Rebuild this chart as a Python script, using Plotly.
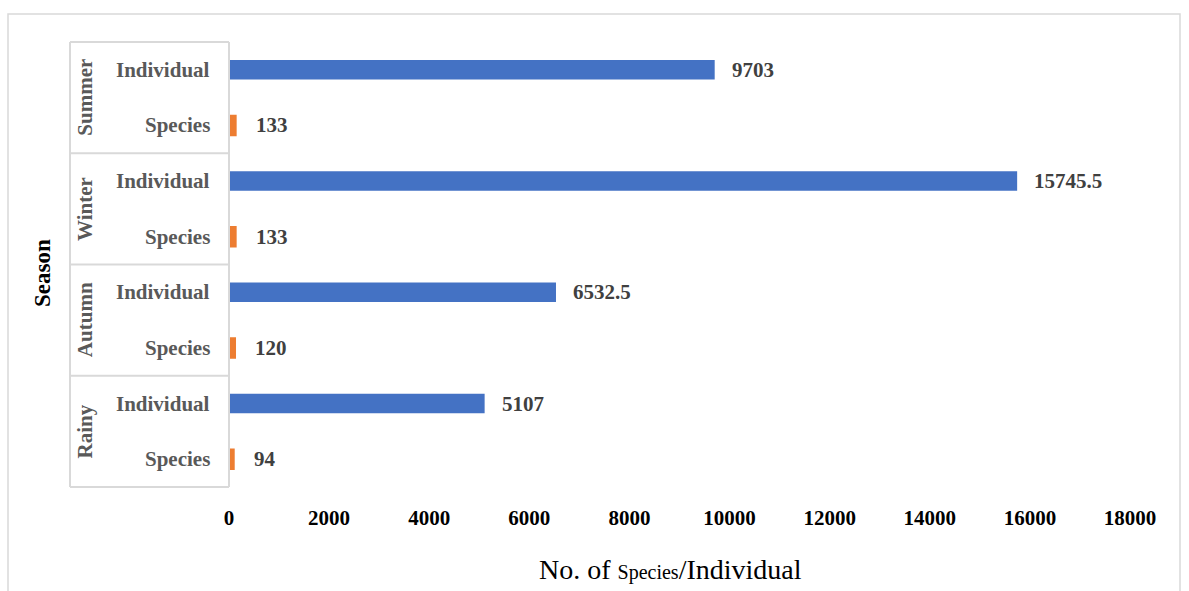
import plotly.graph_objects as go

seasons = ["Summer", "Winter", "Autumn", "Rainy"]
measures = ["Individual", "Species"]
individual = [9703, 15745.5, 6532.5, 5107]
species = [133, 133, 120, 94]
x_ticks = [0, 2000, 4000, 6000, 8000, 10000, 12000, 14000, 16000, 18000]

W, H = 1189, 591
L, R, T, B = 229, 1130, 42, 487  # plot area in px

def px(x):
    return (x - L) / (R - L)

def py(y):
    return (B - y) / (B - T)

cats = [f"{s}|{m}" for s in seasons for m in measures]
ind_cats = [f"{s}|Individual" for s in seasons]
sp_cats = [f"{s}|Species" for s in seasons]

def fmt(v):
    return f"{v:g}"

SERIF = "Liberation Serif, Times New Roman, serif"
FS = 21

fig = go.Figure()
fig.add_trace(go.Bar(
    y=ind_cats, x=individual, orientation="h", width=0.35,
    marker=dict(color="#4472C4", line=dict(width=0)),
    cliponaxis=False, name="Individual",
))
fig.add_trace(go.Bar(
    y=sp_cats, x=species, orientation="h", width=0.35,
    marker=dict(color="#ED7D31", line=dict(color="#ED7D31", width=2)),
    cliponaxis=False, name="Species",
))

annotations = []
# value labels
for ys, vals, shift in ((ind_cats, individual, 15), (sp_cats, species, 18)):
    for yc, v in zip(ys, vals):
        annotations.append(dict(
            x=v, xref="x", y=yc, yref="y", text=fmt(v), showarrow=False,
            xanchor="left", yanchor="middle", xshift=shift,
            font=dict(family=SERIF, size=FS, color="#404040", weight="bold"),
        ))
# inner category labels
for s in seasons:
    for m in measures:
        annotations.append(dict(
            x=px(212), xref="paper", y=f"{s}|{m}", yref="y",
            text=m, showarrow=False, xanchor="right", yanchor="middle",
            font=dict(family=SERIF, size=FS, color="#595959", weight="bold"),
        ))
# season labels (rotated)
n = len(cats)
for i, s in enumerate(seasons):
    ytop = T + (B - T) * (2 * i) / n
    ybot = T + (B - T) * (2 * i + 2) / n
    annotations.append(dict(
        x=px(85), xref="paper", y=py((ytop + ybot) / 2), yref="paper",
        text=s, showarrow=False, textangle=-90, xanchor="center", yanchor="middle",
        font=dict(family=SERIF, size=FS, color="#595959", weight="bold"),
    ))
# axis titles
annotations.append(dict(
    x=px(42), xref="paper", y=py(273), yref="paper",
    text="Season", showarrow=False, textangle=-90, xanchor="center", yanchor="middle",
    font=dict(family=SERIF, size=23, color="#000000", weight="bold"),
))
annotations.append(dict(
    x=px(670), xref="paper", y=py(569), yref="paper",
    text='No. of <span style="font-size:20px">Species</span>/Individual',
    showarrow=False, xanchor="center", yanchor="middle",
    font=dict(family=SERIF, size=28, color="#000000"),
))

line_col = "#D9D9D9"
shapes = []
# outer chart border
shapes.append(dict(type="rect", xref="paper", yref="paper",
                   x0=px(8), x1=px(1180), y0=py(14), y1=py(640),
                   line=dict(color=line_col, width=1.5), layer="below"))
# category table
shapes.append(dict(type="line", xref="paper", yref="paper",
                   x0=px(70), x1=px(70), y0=py(T), y1=py(B),
                   line=dict(color=line_col, width=2)))
shapes.append(dict(type="line", xref="paper", yref="paper",
                   x0=px(229), x1=px(229), y0=py(T), y1=py(B),
                   line=dict(color=line_col, width=2)))
for i in range(len(seasons) + 1):
    yb = T + (B - T) * (2 * i) / n
    shapes.append(dict(type="line", xref="paper", yref="paper",
                       x0=px(70), x1=px(229), y0=py(yb), y1=py(yb),
                       line=dict(color=line_col, width=2)))

fig.update_layout(
    width=W, height=H,
    margin=dict(l=L, r=W - R, t=T, b=H - B),
    paper_bgcolor="white", plot_bgcolor="white",
    showlegend=False, bargap=0.65,
    annotations=annotations, shapes=shapes,
    xaxis=dict(range=[0, 18000], tickvals=x_ticks, ticktext=[str(v) for v in x_ticks],
               showgrid=False, zeroline=False, showline=False,
               ticks="", ticklabelstandoff=16,
               tickfont=dict(family=SERIF, size=FS, color="#000000", weight="bold")),
    yaxis=dict(type="category", categoryorder="array", categoryarray=cats,
               autorange="reversed", showticklabels=False, showgrid=False,
               zeroline=False, showline=False, ticks=""),
)

fig.write_html("out.html")
